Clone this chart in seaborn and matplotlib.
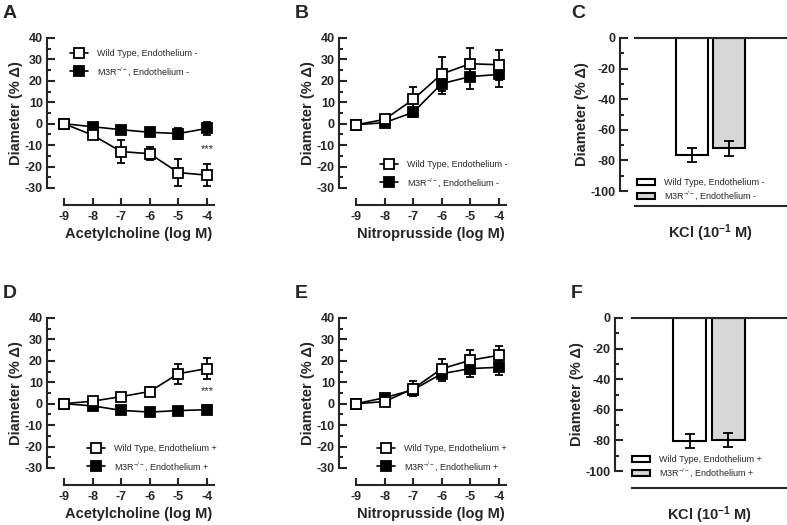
import numpy as np
import pandas as pd
import matplotlib.pyplot as plt
from matplotlib.ticker import MultipleLocator
import seaborn as sns

# concentrations (log M)
conc = [-9, -8, -7, -6, -5, -4]

# A: acetylcholine, endothelium -
a_wt = [0, -5.3, -13, -14, -22.8, -24]
a_wt_err = [0.5, 1, 5.5, 3, 6.4, 5.2]
a_ko = [0, -1.4, -2.8, -4, -4.6, -2.2]
a_ko_err = [0.5, 0.8, 1, 1.2, 2.4, 3]

# B: nitroprusside, endothelium -
b_wt = [-0.5, 2, 11.3, 23.2, 28, 27.5]
b_wt_err = [1, 1.2, 6, 8, 7.4, 7]
b_ko = [-0.5, 0.5, 5.3, 18.7, 22, 23]
b_ko_err = [1, 1, 2, 5, 6, 6]

# D: acetylcholine, endothelium +
d_wt = [0, 1.2, 3.3, 5.7, 14, 16.4]
d_wt_err = [0.5, 1, 1.8, 2.2, 4.6, 5]
d_ko = [0, -1, -3.1, -3.9, -3.2, -2.8]
d_ko_err = [0.5, 0.6, 0.8, 1.5, 1.5, 2]

# E: nitroprusside, endothelium +
e_wt = [0, 1, 7, 16.3, 20.3, 22.6]
e_wt_err = [0.5, 1, 3.5, 4.6, 4.8, 4.2]
e_ko = [0, 2.8, 6.5, 14, 16.4, 17]
e_ko_err = [0.5, 1, 2.8, 3.5, 3.8, 3.5]

# C / F: KCl bars
c_vals = [-76.5, -72]
c_err = [4.5, 5]
f_vals = [-80.5, -79.5]
f_err = [4.5, 4.5]

sns.set_style("ticks")
plt.rcParams['font.family'] = ['Liberation Sans', 'DejaVu Sans']
plt.rcParams['mathtext.default'] = 'regular'
plt.rcParams['axes.unicode_minus'] = False

W, H = 787, 525
fig = plt.figure(figsize=(W / 100, H / 100), dpi=100)
PX = 72 / 100  # px -> pt


def make_ax(left, top, width, height):
    return fig.add_axes([left / W, 1 - (top + height) / H, width / W, height / H])


def style_axis(ax, offset=17):
    for s in ['left', 'bottom']:
        ax.spines[s].set_linewidth(1.5)
        ax.spines[s].set_position(('outward', offset * PX))
    ax.tick_params(axis='y', which='major', direction='in', length=6, width=1.5,
                   labelsize=9, pad=3)
    ax.tick_params(axis='y', which='minor', direction='in', length=3, width=1.5)
    ax.tick_params(axis='x', which='major', direction='in', length=5, width=1.5,
                   labelsize=9, pad=4)
    for lab in ax.get_xticklabels() + ax.get_yticklabels():
        lab.set_fontweight('bold')


def line_panel(left, top, letter, wt, wt_err, ko, ko_err, xlabel, endo, leg_xy, stars=None):
    ax = make_ax(left, top, 150, 150)
    ax.errorbar(conc, wt, yerr=wt_err, fmt='none', ecolor='black', elinewidth=1.3,
                capsize=3, capthick=1.3, zorder=2, clip_on=False)
    ax.errorbar(conc, ko, yerr=ko_err, fmt='none', ecolor='black', elinewidth=1.3,
                capsize=3, capthick=1.3, zorder=2, clip_on=False)
    sns.lineplot(x=conc, y=wt, ax=ax, color='black', lw=1.2, marker='s', markersize=7,
                 markerfacecolor='white', markeredgecolor='black', markeredgewidth=1.3,
                 label=f'Wild Type, Endothelium {endo}', clip_on=False, zorder=4)
    sns.lineplot(x=conc, y=ko, ax=ax, color='black', lw=1.2, marker='s', markersize=7,
                 markerfacecolor='black', markeredgecolor='black', markeredgewidth=1.3,
                 label=f'M3R$^{{-/-}}$, Endothelium {endo}', clip_on=False, zorder=3)
    ax.set_xlim(-9, -3.75)
    ax.set_ylim(-30, 40)
    ax.set_xticks(conc)
    ax.yaxis.set_major_locator(MultipleLocator(10))
    ax.yaxis.set_minor_locator(MultipleLocator(5))
    sns.despine(ax=ax)
    style_axis(ax)
    ax.set_xlabel(xlabel, fontsize=10.5, fontweight='bold', labelpad=3)
    ax.set_ylabel('Diameter (% \u0394)', fontsize=10.5, fontweight='bold', labelpad=1)
    ax.legend(loc='upper left', bbox_to_anchor=(leg_xy[0] / W, 1 - leg_xy[1] / H),
              bbox_transform=fig.transFigure, frameon=False, fontsize=6.5,
              handlelength=2.0, handletextpad=1.0, labelspacing=0.75,
              borderpad=0, borderaxespad=0)
    if stars is not None:
        ax.text(-4, stars, '***', ha='center', va='center', fontsize=8)
    lx = 3 if letter in 'AD' else left - 61
    fig.text(lx / W, 1 - (top - 25) / H, letter, fontsize=14, fontweight='bold',
             ha='left', va='center')
    return ax


def bar_panel(left, top, letter, vals, errs, endo, leg_xy, offset):
    ax = make_ax(left, top, 786 - left, 153)
    df = pd.DataFrame({'cond': ['KCl', 'KCl'],
                       'val': vals,
                       'group': [f'Wild Type, Endothelium {endo}',
                                 f'M3R$^{{-/-}}$, Endothelium {endo}']})
    sns.barplot(data=df, x='cond', y='val', hue='group', palette=['white', '#d7d7d7'],
                edgecolor='black', linewidth=1.5, width=0.5, gap=0.15, ax=ax,
                errorbar=None)
    centers = [p.get_x() + p.get_width() / 2 for p in ax.patches[:2]]
    ax.errorbar(centers, vals, yerr=errs, fmt='none', ecolor='black', elinewidth=1.3,
                capsize=3.5, capthick=1.3, zorder=5)
    ax.set_xlim(-0.5, 0.5)
    ax.set_ylim(-100, 0)
    ax.yaxis.set_major_locator(MultipleLocator(20))
    ax.yaxis.set_minor_locator(MultipleLocator(10))
    ax.set_xticks([])
    sns.despine(ax=ax, top=False, right=True)
    style_axis(ax, offset)
    ax.spines['top'].set_linewidth(1.5)
    ax.set_xlabel('KCl (10$^{-1}$ M)', fontsize=10.5, fontweight='bold', labelpad=12)
    ax.set_ylabel('Diameter (% \u0394)', fontsize=10.5, fontweight='bold', labelpad=1)
    ax.legend(loc='upper left', bbox_to_anchor=(leg_xy[0] / W, 1 - leg_xy[1] / H),
              bbox_transform=fig.transFigure, frameon=False, fontsize=6.5,
              handlelength=2.0, handleheight=0.7, handletextpad=1.0, labelspacing=0.3,
              borderpad=0, borderaxespad=0)
    fig.text(571 / W, 1 - (top - 25) / H, letter, fontsize=14, fontweight='bold',
             ha='left', va='center')
    return ax


line_panel(64, 38, 'A', a_wt, a_wt_err, a_ko, a_ko_err, 'Acetylcholine (log M)', '-',
           (70, 49), stars=-12)
line_panel(356, 38, 'B', b_wt, b_wt_err, b_ko, b_ko_err, 'Nitroprusside (log M)', '-',
           (380, 160))
line_panel(64, 318, 'D', d_wt, d_wt_err, d_ko, d_ko_err, 'Acetylcholine (log M)', '+',
           (87, 444), stars=6)
line_panel(356, 318, 'E', e_wt, e_wt_err, e_ko, e_ko_err, 'Nitroprusside (log M)', '+',
           (377, 444))
bar_panel(635, 38, 'C', c_vals, c_err, '-', (637, 178), 15)
bar_panel(632, 318, 'F', f_vals, f_err, '+', (632, 455), 17)

fig.savefig('out.png', dpi=100)
